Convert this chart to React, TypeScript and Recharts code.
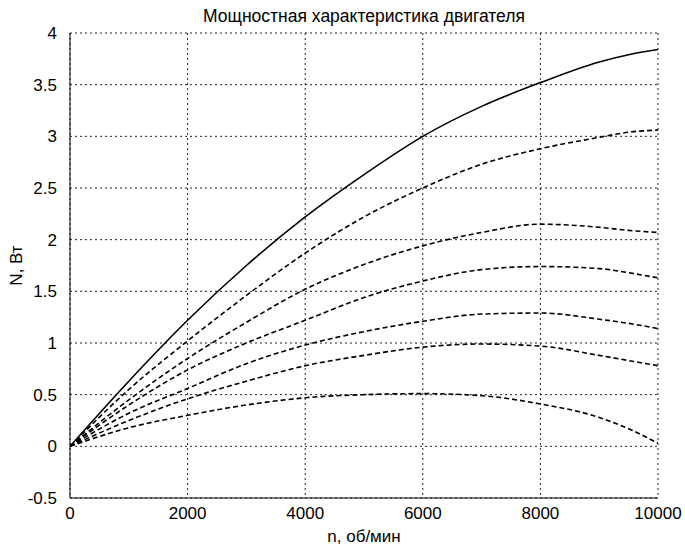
import { LineChart, Line, XAxis, YAxis, CartesianGrid, Label } from "recharts";

// частота вращения, об/мин
const speeds = [0, 1000, 2000, 3000, 4000, 5000, 6000, 7000, 8000, 9000, 9500, 10000];

// мощность, Вт (сплошная кривая + 6 пунктирных)
const power1 = [0, 0.63, 1.22, 1.75, 2.22, 2.63, 3.0, 3.29, 3.52, 3.72, 3.79, 3.84];
const power2 = [0, 0.55, 1.02, 1.46, 1.87, 2.22, 2.5, 2.73, 2.88, 2.99, 3.04, 3.06];
const power3 = [0, 0.45, 0.85, 1.2, 1.52, 1.76, 1.94, 2.07, 2.15, 2.12, 2.09, 2.07];
const power4 = [0, 0.4, 0.74, 1.0, 1.22, 1.44, 1.6, 1.71, 1.74, 1.72, 1.68, 1.63];
const power5 = [0, 0.32, 0.56, 0.8, 0.98, 1.11, 1.21, 1.28, 1.29, 1.23, 1.19, 1.14];
const power6 = [0, 0.25, 0.46, 0.63, 0.78, 0.88, 0.96, 0.99, 0.97, 0.88, 0.83, 0.78];
const power7 = [0, 0.18, 0.3, 0.4, 0.47, 0.5, 0.51, 0.49, 0.41, 0.28, 0.17, 0.03];

const xTicks = [0, 2000, 4000, 6000, 8000, 10000];
const yTicks = [-0.5, 0, 0.5, 1, 1.5, 2, 2.5, 3, 3.5, 4];

const series = [power1, power2, power3, power4, power5, power6, power7];

const data = speeds.map((n, i) => {
  const row: Record<string, number> = { n };
  series.forEach((s, k) => {
    row["p" + (k + 1)] = s[i];
  });
  return row;
});

const FONT = "'Liberation Sans', Arial, sans-serif";
const tickStyle = { fill: "#000", fontSize: 17, fontFamily: FONT };

export default function App() {
  return (
    <div style={{ position: "absolute", left: 0, top: 0, width: 685, height: 549, background: "#fff" }}>
      <LineChart
        width={685}
        height={549}
        data={data}
        margin={{ top: 33, right: 27, bottom: 21, left: 10 }}
      >
        <text
          x={364}
          y={22}
          textAnchor="middle"
          fontSize={17.5}
          fontFamily={FONT}
          fill="#000"
        >
          Мощностная характеристика двигателя
        </text>
        <CartesianGrid
          stroke="#222"
          strokeDasharray="2 3"
          horizontalValues={yTicks}
          verticalValues={xTicks}
        />
        <XAxis
          dataKey="n"
          type="number"
          domain={[0, 10000]}
          ticks={xTicks}
          tickLine={false}
          tickMargin={3}
          tick={tickStyle}
          stroke="#000"
          allowDataOverflow
        >
          <Label
            value="n, об/мин"
            position="insideBottom"
            offset={-14}
            style={{ fontSize: 17, fontFamily: FONT, fill: "#000" }}
          />
        </XAxis>
        <YAxis
          type="number"
          domain={[-0.5, 4]}
          ticks={yTicks}
          width={60}
          tickLine={false}
          tickMargin={7}
          tick={tickStyle}
          stroke="#000"
          allowDataOverflow
        >
          <Label
            value="N, Вт"
            angle={-90}
            position="insideLeft"
            offset={6}
            style={{ fontSize: 17, fontFamily: FONT, fill: "#000", textAnchor: "middle" }}
          />
        </YAxis>
        <Line
          dataKey="p1"
          type="monotone"
          stroke="#000"
          strokeWidth={1.6}
          dot={false}
          isAnimationActive={false}
        />
        {["p2", "p3", "p4", "p5", "p6", "p7"].map((k) => (
          <Line
            key={k}
            dataKey={k}
            type="monotone"
            stroke="#000"
            strokeWidth={1.6}
            strokeDasharray="5 3"
            dot={false}
            isAnimationActive={false}
          />
        ))}
      </LineChart>
    </div>
  );
}
